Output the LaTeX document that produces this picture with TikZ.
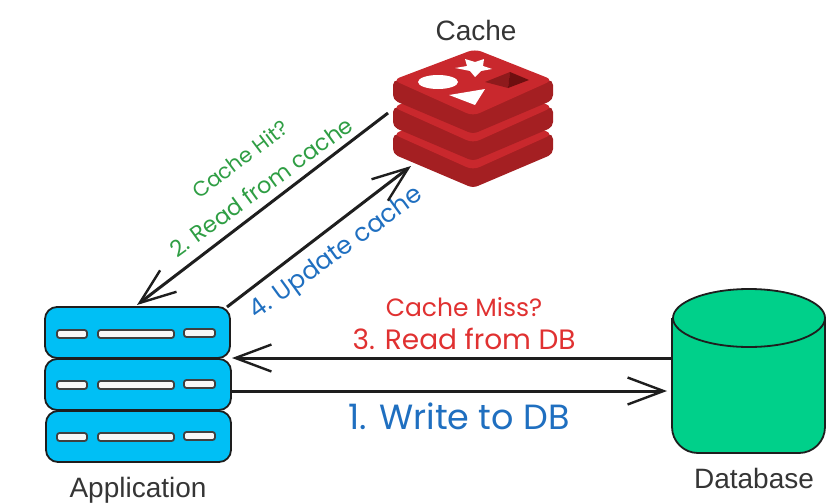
\documentclass[tikz,border=0pt]{standalone}
\usepackage{fontspec}
\setmainfont{Liberation Sans}
\newfontfamily\handfont{Poppins}
\usetikzlibrary{arrows.meta,shapes.geometric}
\definecolor{appblue}{HTML}{00BFF5}
\definecolor{dbgreen}{HTML}{00D08A}
\definecolor{hgreen}{HTML}{2F9E44}
\definecolor{hblue}{HTML}{1F6FC0}
\definecolor{hred}{HTML}{E03131}
\definecolor{rface}{HTML}{C9282D}
\definecolor{rside}{HTML}{A41F22}
\definecolor{rdark}{HTML}{8E1A1C}
\definecolor{rdarker}{HTML}{6E0F10}
\definecolor{ink}{HTML}{1E1E1E}
\tikzset{
  lbl/.style={inner sep=0pt,text=ink!90,font=\fontsize{28}{30}\selectfont},
  srv/.style={draw=ink,line width=1.8pt,fill=appblue,rounded corners=12pt},
  slot/.style={draw=ink!85,line width=1.8pt,fill=white!97!black,rounded corners=2.5pt},
  conn/.style={draw=ink,line width=3pt,-{Straight Barb[length=36pt,width=27pt,line width=2.4pt]}},
  hand/.style={inner sep=0pt},
}
\newcommand{\redislayer}[1]{%
  \begin{scope}[yshift=#1]
    \fill[rside,rounded corners=5pt] (393,80) -- (393,100) -- (473,134) -- (553,100) -- (553,80) -- cycle;
    \fill[rface,rounded corners=7pt] (393,80) -- (475,49) -- (553,80) -- (473,116) -- cycle;
  \end{scope}}
\newcommand{\slots}[1]{%
  \draw[slot] (57,#1) rectangle (87,{#1+8});
  \draw[slot] (98,#1) rectangle (174,{#1+8});
  \draw[slot] (184,{#1-1}) rectangle (215,{#1+7});}
\begin{document}
\begin{tikzpicture}[x=1pt,y=-1pt]
\useasboundingbox (0,0) rectangle (826,503);
% Redis logo
\redislayer{-54pt}
\redislayer{-27pt}
\redislayer{0pt}
\fill[white] (438,82) ellipse [x radius=20,y radius=7];
\fill[white] (455,68) -- (467,66) -- (465,59) -- (475,62) -- (484,59) -- (483,66) -- (492,69) -- (481,71) -- (475,77) -- (470,71) -- cycle;
\fill[white] (449,95) -- (485,89) -- (475,105) -- cycle;
\fill[rdark] (485,82) -- (510,72) -- (508,88) -- cycle;
\fill[rdarker] (510,72) -- (529,80) -- (508,88) -- cycle;
% Application
\draw[srv] (45,307) rectangle (230,358);
\draw[srv] (45,359) rectangle (231,410);
\draw[srv] (46,411) rectangle (231,462);
\slots{330}
\slots{381}
\slots{433}
% Database
\draw[line width=1.8pt,draw=ink,fill=dbgreen,rounded corners=26pt]
  (672,318) -- (672,453) -- (825,453) -- (825,318);
\draw[line width=1.8pt,draw=ink,fill=dbgreen] (749,318) ellipse [x radius=76,y radius=29];
% Labels
\node[lbl] (cachelabel) at (476,30) {Cache};
\node[lbl] (applabel) at (138,490) {Application};
\node[lbl] (dblabel) at (754,478) {Database};
\node[hand,text=hgreen,rotate=37,font=\handfont\fontsize{21}{23}\selectfont] (hit) at (240,159) {Cache Hit?};
\node[hand,text=hgreen,rotate=36,font=\handfont\fontsize{22.5}{25}\selectfont] (readcache) at (261,187) {2. Read from cache};
\node[hand,text=hblue,rotate=36,font=\handfont\fontsize{25}{27}\selectfont] (update) at (337,254) {4. Update cache};
\node[hand,text=hred,font=\handfont\fontsize{25}{27}\selectfont] (miss) at (464,307) {Cache Miss?};
\node[hand,text=hred,font=\handfont\fontsize{28}{30}\selectfont] (readdb) at (464,339) {3. Read from DB};
\node[hand,text=hblue,font=\handfont\fontsize{35}{37}\selectfont] (writedb) at (459,416) {1. Write to DB};
% Connector ends
\coordinate (cacheout) at (388,113);
\coordinate (appin) at (137,305);
\coordinate (appout) at (227,307);
\coordinate (cachein) at (411,166);
\coordinate (dbout) at (672,358);
\coordinate (appdbin) at (232,358);
\coordinate (appdbout) at (231,391);
\coordinate (dbin) at (667,391);
\draw[conn] (cacheout) -- (appin);
\draw[conn] (appout) -- (cachein);
\draw[conn] (dbout) -- (appdbin);
\draw[conn] (appdbout) -- (dbin);
\end{tikzpicture}
\end{document}
